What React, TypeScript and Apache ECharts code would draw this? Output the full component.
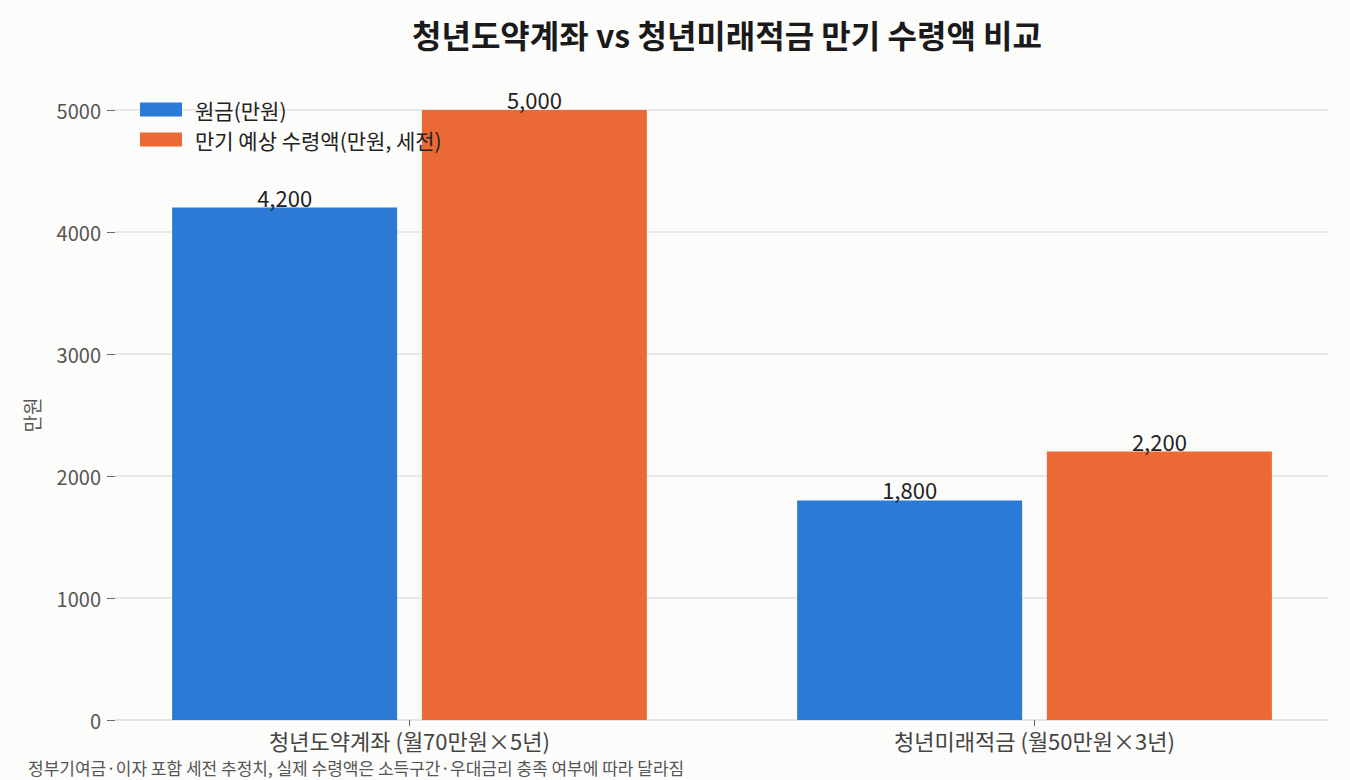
import React, { useEffect, useRef } from 'react'
import * as echarts from 'echarts'

const categories = ['청년도약계좌 (월70만원×5년)', '청년미래적금 (월50만원×3년)']
const principal = [4200, 1800]
const maturity = [5000, 2200]
const seriesNames = ['원금(만원)', '만기 예상 수령액(만원, 세전)']
const yTicks = { min: 0, max: 5000, interval: 1000 }

const FONT = '"Noto Sans CJK KR", "Noto Sans", sans-serif'

export default function App() {
  const chartRef = useRef<HTMLDivElement | null>(null)

  useEffect(() => {
    if (!chartRef.current) return
    const chart = echarts.init(chartRef.current, undefined, { renderer: 'svg' })

    const barLabel = {
      show: true,
      position: 'top' as const,
      distance: 0,
      color: '#222',
      fontSize: 22,
      fontFamily: FONT,
      formatter: (p: any) => Number(p.value).toLocaleString('en-US'),
    }

    chart.setOption({
      animation: false,
      backgroundColor: '#fcfcfa',
      textStyle: { fontFamily: FONT },
      title: {
        text: '청년도약계좌 vs 청년미래적금 만기 수령액 비교',
        left: 722,
        textAlign: 'center',
        top: 13,
        textStyle: { fontSize: 32, fontWeight: 'bold', color: '#1a1a1a', fontFamily: FONT },
      },
      legend: {
        orient: 'vertical',
        left: 135,
        top: 94,
        itemWidth: 42,
        itemHeight: 14,
        itemGap: 9,
        textStyle: { fontSize: 21, lineHeight: 21, color: '#222', padding: [0, 0, 0, 8] },
        data: seriesNames,
        icon: 'rect',
      },
      grid: [
        { left: 115, right: 22, top: 110, bottom: 60 },
        { left: 97, width: 1250, top: 110, bottom: 60 },
      ],
      xAxis: [
        {
          gridIndex: 0,
          type: 'value',
          min: 0,
          max: 1,
          axisLine: { show: true, lineStyle: { color: '#e3e3e3', width: 1.5 } },
          axisTick: { show: false },
          axisLabel: { show: false },
          splitLine: { show: false },
        },
        {
          gridIndex: 1,
          type: 'category',
          data: categories,
          axisLine: { show: false },
          axisTick: { show: true, alignWithLabel: true, length: 6, lineStyle: { color: '#666' } },
          axisLabel: { fontSize: 22, lineHeight: 22, color: '#444', margin: 9 },
        },
      ],
      yAxis: [
        {
          gridIndex: 0,
          type: 'value',
          ...yTicks,
          name: '만원',
          nameLocation: 'middle',
          nameGap: 74,
          nameTextStyle: { fontSize: 19, color: '#555' },
          axisLine: { show: false },
          axisTick: { show: true, length: 8, lineStyle: { color: '#666' } },
          axisLabel: { fontSize: 20, color: '#555', margin: 14, formatter: (v: number) => String(v) },
          splitLine: { show: true, lineStyle: { color: '#e3e3e3', width: 1.5 } },
        },
        {
          gridIndex: 1,
          type: 'value',
          ...yTicks,
          show: false,
        },
      ],
      graphic: [
        {
          type: 'text',
          left: 28,
          top: 759,
          style: {
            text: '정부기여금·이자 포함 세전 추정치, 실제 수령액은 소득구간·우대금리 충족 여부에 따라 달라짐',
            fontSize: 17,
            lineHeight: 17,
            fill: '#555',
            fontFamily: FONT,
          },
        },
      ],
      series: [
        {
          name: seriesNames[0],
          type: 'bar',
          xAxisIndex: 1,
          yAxisIndex: 1,
          data: principal,
          barWidth: 225,
          barGap: '11%',
          itemStyle: { color: '#2a7ad6' },
          label: barLabel,
        },
        {
          name: seriesNames[1],
          type: 'bar',
          xAxisIndex: 1,
          yAxisIndex: 1,
          data: maturity,
          barWidth: 225,
          barGap: '11%',
          itemStyle: { color: '#eb6935' },
          label: barLabel,
        },
      ],
    })

    return () => {
      chart.dispose()
    }
  }, [])

  return (
    <div
      ref={chartRef}
      style={{ position: 'absolute', left: 0, top: 0, width: 1350, height: 780 }}
    />
  )
}
